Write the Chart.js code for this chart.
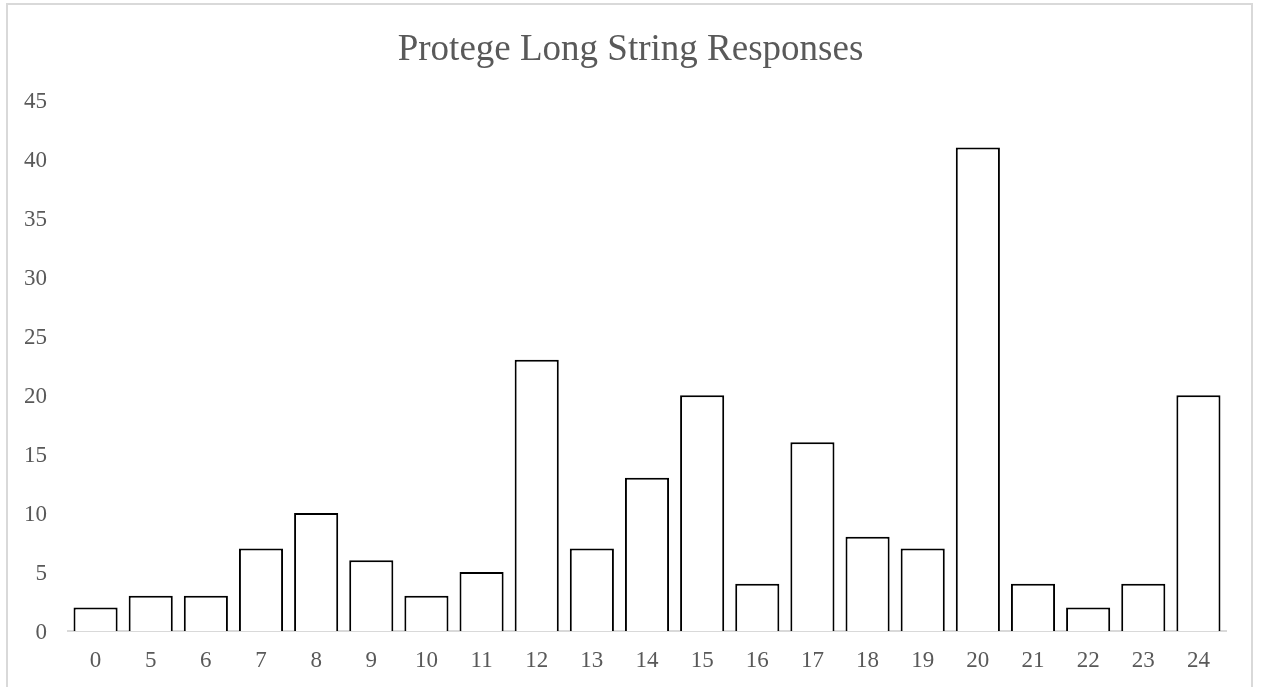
<!DOCTYPE html>
<html>
<head>
<meta charset="utf-8">
<script src="https://cdn.jsdelivr.net/npm/chart.js@4"></script>
<style>
  html, body { margin: 0; padding: 0; background: #fff; }
  #wrap { position: relative; width: 1261px; height: 687px; overflow: hidden; }
  #frame { position: absolute; left: 6px; top: 3px; width: 1247px; height: 720px;
           border: 2px solid #d9d9d9; box-sizing: border-box; pointer-events: none; }
  canvas { position: absolute; left: 0; top: 0; }
</style>
</head>
<body>
<div id="wrap">
  <canvas id="c" width="1261" height="687"></canvas>
  <div id="frame"></div>
</div>
<script>
// Response lengths and how many responses had each length
const categories = ['0','5','6','7','8','9','10','11','12','13','14','15','16','17','18','19','20','21','22','23','24'];
const counts = [2, 3, 3, 7, 10, 6, 3, 5, 23, 7, 13, 20, 4, 16, 8, 7, 41, 4, 2, 4, 20];
const yTicks = [0, 5, 10, 15, 20, 25, 30, 35, 40, 45];
const chartTitle = 'Protege Long String Responses';

const serif = "'Liberation Serif', 'Times New Roman', serif";
const grey = '#595959';

new Chart(document.getElementById('c'), {
  type: 'bar',
  data: {
    labels: categories,
    datasets: [{
      data: counts,
      backgroundColor: '#ffffff',
      borderColor: '#000000',
      borderWidth: 2,
      borderSkipped: 'bottom',
      categoryPercentage: 1.0,
      barPercentage: 0.8
    }]
  },
  options: {
    responsive: false,
    animation: false,
    layout: { padding: 0 },
    plugins: {
      legend: { display: false },
      tooltip: { enabled: false },
      title: {
        display: true,
        text: chartTitle,
        color: grey,
        font: { family: serif, size: 37, weight: 'normal' },
        padding: { top: 28, bottom: 28 }
      }
    },
    scales: {
      x: {
        grid: { display: false, drawTicks: false },
        border: { display: true, color: '#d9d9d9', width: 2 },
        ticks: { color: grey, font: { family: serif, size: 23 }, padding: 16, maxRotation: 0 },
        afterFit: (s) => { s.height = 56; }
      },
      y: {
        min: 0,
        max: 45,
        afterBuildTicks: (s) => { s.ticks = yTicks.map(v => ({ value: v })); },
        grid: { display: false, drawTicks: false },
        border: { display: false },
        ticks: { color: grey, font: { family: serif, size: 23 }, padding: 21, labelOffset: 2 },
        afterFit: (s) => { s.width = 68; }
      },
      // empty right-hand margin so the plot ends short of the frame
      margin: {
        type: 'linear',
        position: 'right',
        grid: { display: false, drawTicks: false },
        border: { display: false },
        ticks: { display: false },
        afterFit: (s) => { s.width = 35; }
      }
    }
  }
});
</script>
</body>
</html>
